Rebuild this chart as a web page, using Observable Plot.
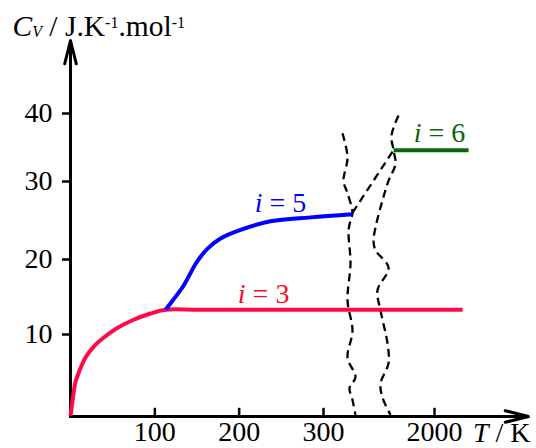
<!DOCTYPE html>
<html><head><meta charset="utf-8">
<script src="https://cdn.jsdelivr.net/npm/d3@7"></script>
<script src="https://cdn.jsdelivr.net/npm/@observablehq/plot@0.6"></script>
<style>body{margin:0;background:#fff} svg{display:block}</style>
</head><body><div id="chart"></div>
<script>
// ---- values ----
const xTickValues = [100, 200, 300, 2000];
const xTickLabels = ["100", "200", "300", "2000"];
const yTickValues = [10, 20, 30, 40];

// i = 3 (monatomic)
const T3  = [0, 2.4, 5.9, 10.7, 17.8, 27.3, 39.1, 54.5, 73.5, 94.9, 112.7, 154, 2149];
const Cv3 = [0.1, 1.9, 4.2, 5.6, 7.2, 8.5, 9.6, 10.8, 11.9, 12.8, 13.3, 13.3, 13.3];
// i = 5 (diatomic, rotation)
const T5  = [112.7, 121, 134, 149.4, 162.5, 177.9, 201.6, 237.2, 284.6, 402];
const Cv5 = [13.3, 14.5, 16.5, 19.6, 21.4, 22.7, 23.8, 24.9, 25.4, 25.8];
// i = 6 (vibration)
const T6  = [1201, 2181];
const Cv6 = [34.6, 34.6];
// connecting dashed segment i=5 -> i=6
const Tlink  = [402, 1201];
const Cvlink = [26.0, 34.6];
// axis-break squiggles
const TbreakL  = [322.5, 328.5, 323.7, 328.5, 402, 363, 329.7, 363, 328.5, 402, 328.5, 460, 343.6, 402, 460];
const CvbreakL = [37.1, 33.5, 30.1, 28.5, 26.0, 25.0, 23.7, 19.5, 14.5, 10.5, 7.2, 4.8, 3.5, 2.0, 0.2];
const TbreakR  = [1299, 1162, 1201, 1240, 1104, 987, 850, 811, 850, 1104, 889, 948, 1084, 1104, 948, 987, 1143];
const CvbreakR = [39.7, 36.8, 34.6, 32.6, 30.1, 27.6, 24.1, 22.4, 21.2, 18.9, 15.9, 13.2, 8.9, 6.5, 4.0, 2.3, 0.2];
// series labels
const labelNames = ["i = 3", "i = 5", "i = 6"];
const labelT  = [229, 249, 2027];
const labelCv = [13.3, 25.1, 34.6];

// ---- build ----
const zip = (xs, ys) => xs.map((x, i) => ({T: x, Cv: ys[i]}));
const xDomain = [0, 330, 2000, 2500];
const yDomain = [0, 10, 20, 30, 40, 51];
const FONT = "Liberation Serif, Times New Roman, serif";
const RED_LINE = "#ff0a48", RED_TXT = "#ff0a1e", BLUE = "#0000ff", GREEN = "#0a640a";

const lbl = (k, color, dy) => Plot.text([{T: labelT[k], Cv: labelCv[k], s: labelNames[k]}],
  {x: "T", y: "Cv", text: "s", fill: color, fontSize: 28, textAnchor: "middle", lineAnchor: "bottom", dy});

const dash = {x: "T", y: "Cv", stroke: "#000", strokeWidth: 2.3, strokeDasharray: "8 5", strokeLinecap: "butt"};

const chart = Plot.plot({
  width: 536, height: 448,
  marginLeft: 70, marginRight: 8, marginTop: 40, marginBottom: 32,
  style: {fontFamily: FONT, fontSize: "28px", background: "#fff", color: "#000", overflow: "visible"},
  x: {type: "linear", domain: xDomain, range: [70, 348.3, 434, 528], label: null},
  y: {type: "linear", domain: yDomain, range: [416, 334, 259, 181, 113, 40], label: null},
  marks: [
    Plot.axisY({ticks: yTickValues, tickSize: 8, tickPadding: 10, fontSize: 28, strokeWidth: 2.5, label: null}),
    Plot.axisX({ticks: xTickValues, tickSize: 0, tickPadding: 5, fontSize: 28, label: null,
      tickFormat: d => xTickLabels[xTickValues.indexOf(d)]}),
    Plot.ruleX(xTickValues, {x: d => d, y1: () => yDomain[0], y2: () => 1, strokeWidth: 2.5}),
    // axes with arrow heads
    Plot.arrow([{x1: xDomain[0], y1: yDomain[0], x2: xDomain[0], y2: yDomain[yDomain.length - 1]}],
      {x1: "x1", y1: "y1", x2: "x2", y2: "y2", strokeWidth: 3, headLength: 12, headAngle: 28}),
    Plot.arrow([{x1: xDomain[0], y1: yDomain[0], x2: xDomain[xDomain.length - 1], y2: yDomain[0]}],
      {x1: "x1", y1: "y1", x2: "x2", y2: "y2", strokeWidth: 3, headLength: 12, headAngle: 28}),
    // break squiggles and link
    Plot.line(zip(TbreakL, CvbreakL), {...dash, curve: "catmull-rom"}),
    Plot.line(zip(TbreakR, CvbreakR), {...dash, curve: "catmull-rom"}),
    Plot.line(zip(Tlink, Cvlink), dash),
    // series
    Plot.line(zip(T3, Cv3), {x: "T", y: "Cv", curve: "catmull-rom", stroke: RED_LINE, strokeWidth: 4, strokeLinecap: "butt"}),
    Plot.line(zip(T5, Cv5), {x: "T", y: "Cv", curve: "catmull-rom", stroke: BLUE, strokeWidth: 4, strokeLinecap: "butt"}),
    Plot.line(zip(T6, Cv6), {x: "T", y: "Cv", stroke: GREEN, strokeWidth: 4, strokeLinecap: "butt"}),
    lbl(0, RED_TXT, -7), lbl(1, BLUE, -8), lbl(2, GREEN, -8),
    // axis titles
    Plot.text(["CV / J.K-1.mol-1"], {text: d => d, frameAnchor: "top-left", textAnchor: "start", lineAnchor: "bottom", dx: -58, dy: -5, fontSize: 29.5}),
    Plot.text(["T / K"], {text: d => d, frameAnchor: "bottom-right", textAnchor: "end", lineAnchor: "bottom", dx: 2, dy: 25, fontSize: 28})
  ]
});

// rich text (italics, sub/superscripts)
function rich(svg, plain, parts) {
  svg.querySelectorAll("text").forEach(t => {
    if (t.textContent !== plain) return;
    while (t.firstChild) t.removeChild(t.firstChild);
    let shift = 0;
    for (const p of parts) {
      const ts = document.createElementNS("http://www.w3.org/2000/svg", "tspan");
      ts.textContent = p.t;
      if (p.i) ts.setAttribute("font-style", "italic");
      if (p.size) ts.setAttribute("font-size", p.size);
      const want = p.shift || 0;
      if (want !== shift) { ts.setAttribute("dy", want - shift); shift = want; }
      t.appendChild(ts);
    }
  });
}
rich(chart, "CV / J.K-1.mol-1", [
  {t: "C", i: true}, {t: "V", i: true, size: 16, shift: 1}, {t: " / J.K"},
  {t: "-1", size: 16, shift: -8}, {t: ".mol"}, {t: "-1", size: 16, shift: -8}
]);
rich(chart, "T / K", [{t: "T", i: true}, {t: " / K"}]);
for (const s of labelNames) rich(chart, s, [{t: "i", i: true}, {t: s.slice(1)}]);

document.getElementById("chart").appendChild(chart);
</script>
</body></html>
